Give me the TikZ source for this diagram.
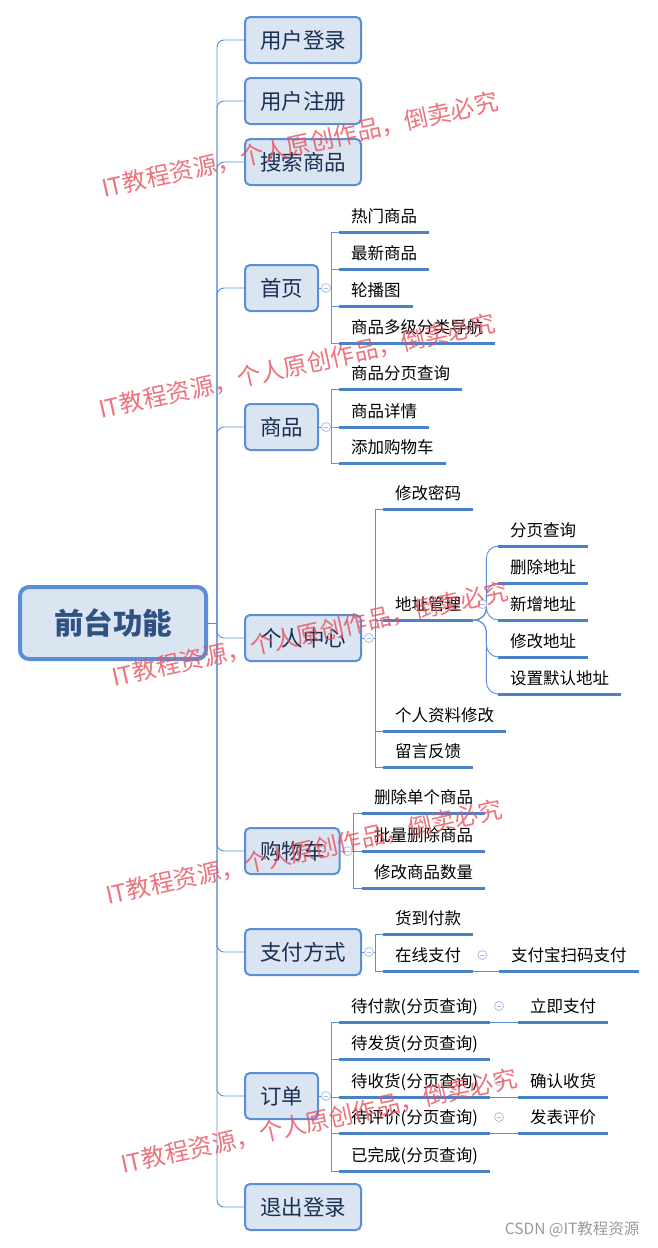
\documentclass[tikz,border=0pt]{standalone}
\usepackage{fontspec}
\setmainfont{Noto Sans CJK SC}
\usetikzlibrary{calc}
\definecolor{boxfill}{RGB}{219,229,241}
\definecolor{boxline}{RGB}{91,142,214}
\definecolor{linkc}{RGB}{91,142,214}
\definecolor{ulinec}{RGB}{74,130,200}
\definecolor{boxtext}{RGB}{26,47,85}
\definecolor{roottext}{RGB}{47,82,131}
\definecolor{foldc}{RGB}{169,191,230}
\definecolor{markc}{RGB}{232,80,92}
\tikzset{
  central/.style={draw=boxline,fill=boxfill,line width=4pt,rounded corners=9pt,text=roottext,
    font=\fontsize{29.5}{30}\selectfont\bfseries,minimum width=186pt,minimum height=72pt,
    text height=26pt,text depth=3.5pt},
  topic/.style={draw=boxline,fill=boxfill,line width=2pt,rounded corners=5pt,text=boxtext,
    font=\fontsize{21.5}{22}\selectfont,inner xsep=15pt,inner ysep=0pt,minimum height=46pt,
    text height=18.9pt,text depth=2.6pt,anchor=west},
  item/.style={font=\fontsize{16.5}{17}\selectfont,inner xsep=12pt,inner ysep=7.5pt,
    text height=14.5pt,text depth=2pt,anchor=south west,
    append after command={(\tikzlastnode.south west) edge[underl] (\tikzlastnode.south east)}},
  underl/.style={draw=ulinec,line width=3pt},
  link/.style={draw=linkc,line width=.9pt},
  trunk/.style={link,rounded corners=7pt},
  fold/.style={circle,draw=foldc,fill=white,line width=.8pt,inner sep=0pt,minimum size=9pt,
    path picture={\draw[foldc,line width=.8pt] ([xshift=-2.2pt]path picture bounding box.center)
      -- ([xshift=2.2pt]path picture bounding box.center);}},
  wmark/.style={text=markc,opacity=.8,rotate=12.5,font=\fontsize{24}{24}\selectfont},
}
\begin{document}
\begin{tikzpicture}[x=1pt,y=-1pt]
\useasboundingbox (0,0) rectangle (658,1248);
\node[central] (root) at (113,623) {前台功能};
\coordinate (hub) at (217,623);
\node[topic] (login) at (244,40) {用户登录};
\node[topic] (register) at (244,101) {用户注册};
\node[topic] (search) at (244,162) {搜索商品};
\node[topic] (home) at (244,288) {首页};
\node[topic] (goods) at (244,427) {商品};
\node[topic] (center) at (244,638) {个人中心};
\node[topic] (cart) at (244,851) {购物车};
\node[topic] (pay) at (244,952) {支付方式};
\node[topic] (order) at (244,1096) {订单};
\node[topic] (logout) at (244,1207) {退出登录};
\draw[link] (root.east) -- (hub);
\foreach \t in {login,register,search,home,goods,center,cart,pay,order,logout}
  \draw[trunk] (hub) |- (\t.west);
% 首页 / 商品
\node[item] (hot) at (339,232) {热门商品};
\node[item] (newest) at (339,269) {最新商品};
\node[item] (banner) at (339,306) {轮播图};
\node[item] (cate) at (339,343) {商品多级分类导航};
\node[item] (gpage) at (339,389) {商品分页查询};
\node[item] (gdetail) at (339,427) {商品详情};
\node[item] (gadd) at (339,463) {添加购物车};
\foreach \c in {hot,newest,banner,cate}
  \draw[link] (home.east) -- ++(12,0) |- (\c.south west);
\foreach \c in {gpage,gdetail,gadd}
  \draw[link] (goods.east) -- ++(12,0) |- (\c.south west);
% 个人中心
\node[item] (pwd) at (383,509) {修改密码};
\node[item] (addr) at (383,620) {地址管理};
\node[item] (profile) at (383,731) {个人资料修改};
\node[item] (msg) at (383,767) {留言反馈};
\foreach \c in {pwd,addr,profile,msg}
  \draw[link] (center.east) -- ++(13,0) |- (\c.south west);
\node[item] (apage) at (498,546) {分页查询};
\node[item] (adel) at (498,583) {删除地址};
\node[item] (anew) at (498,620) {新增地址};
\node[item] (aedit) at (498,657) {修改地址};
\node[item] (adefault) at (498,694) {设置默认地址};
\foreach \c in {apage,adel,anew,aedit,adefault}
  \draw[link,rounded corners=12pt] (addr.south east) -- ++(13,0) |- (\c.south west);
% 购物车 / 支付方式
\node[item] (cdel) at (362,813) {删除单个商品};
\node[item] (cbatch) at (362,851) {批量删除商品};
\node[item] (cnum) at (362,888) {修改商品数量};
\foreach \c in {cdel,cbatch,cnum}
  \draw[link] (cart.east) -- ++(13,0) |- (\c.south west);
\node[item] (cod) at (383,934) {货到付款};
\node[item] (online) at (383,971) {在线支付};
\node[item] (alipay) at (499,971) {支付宝扫码支付};
\foreach \c in {cod,online}
  \draw[link] (pay.east) -- ++(13,0) |- (\c.south west);
\draw[link] (online.south east) -- (alipay.south west);
% 订单
\node[item] (unpaid) at (339,1022) {待付款(分页查询)};
\node[item] (unsent) at (339,1059) {待发货(分页查询)};
\node[item] (unrecv) at (339,1097) {待收货(分页查询)};
\node[item] (uneval) at (339,1133) {待评价(分页查询)};
\node[item] (done) at (339,1171) {已完成(分页查询)};
\foreach \c in {unpaid,unsent,unrecv,uneval,done}
  \draw[link] (order.east) -- ++(12,0) |- (\c.south west);
\node[item] (paynow) at (518,1022) {立即支付};
\node[item] (confirm) at (518,1097) {确认收货};
\node[item] (comment) at (518,1133) {发表评价};
\draw[link] (unpaid.south east) -- (paynow.south west);
\draw[link] (unrecv.south east) -- (confirm.south west);
\draw[link] (uneval.south east) -- (comment.south west);
% 折叠标记
\foreach \t in {home,goods,center,cart,pay,order}
  \node[fold] (f\t) at ([xshift=7pt]\t.east) {};
\foreach \t in {addr,online,unpaid,unrecv,uneval}
  \node[fold] (f\t) at ([xshift=9pt]\t.east) {};
% 水印
\node[wmark] (wm1) at (300,145) {IT教程资源，个人原创作品，倒卖必究};
\node[wmark] (wm2) at (297,366) {IT教程资源，个人原创作品，倒卖必究};
\node[wmark] (wm3) at (310,634) {IT教程资源，个人原创作品，倒卖必究};
\node[wmark] (wm4) at (304,852) {IT教程资源，个人原创作品，倒卖必究};
\node[wmark] (wm5) at (319,1121) {IT教程资源，个人原创作品，倒卖必究};
\node[anchor=east,text=black!40,font=\fontsize{15.5}{16}\selectfont] (csdn) at (643,1229) {CSDN @IT教程资源};
\end{tikzpicture}
\end{document}
